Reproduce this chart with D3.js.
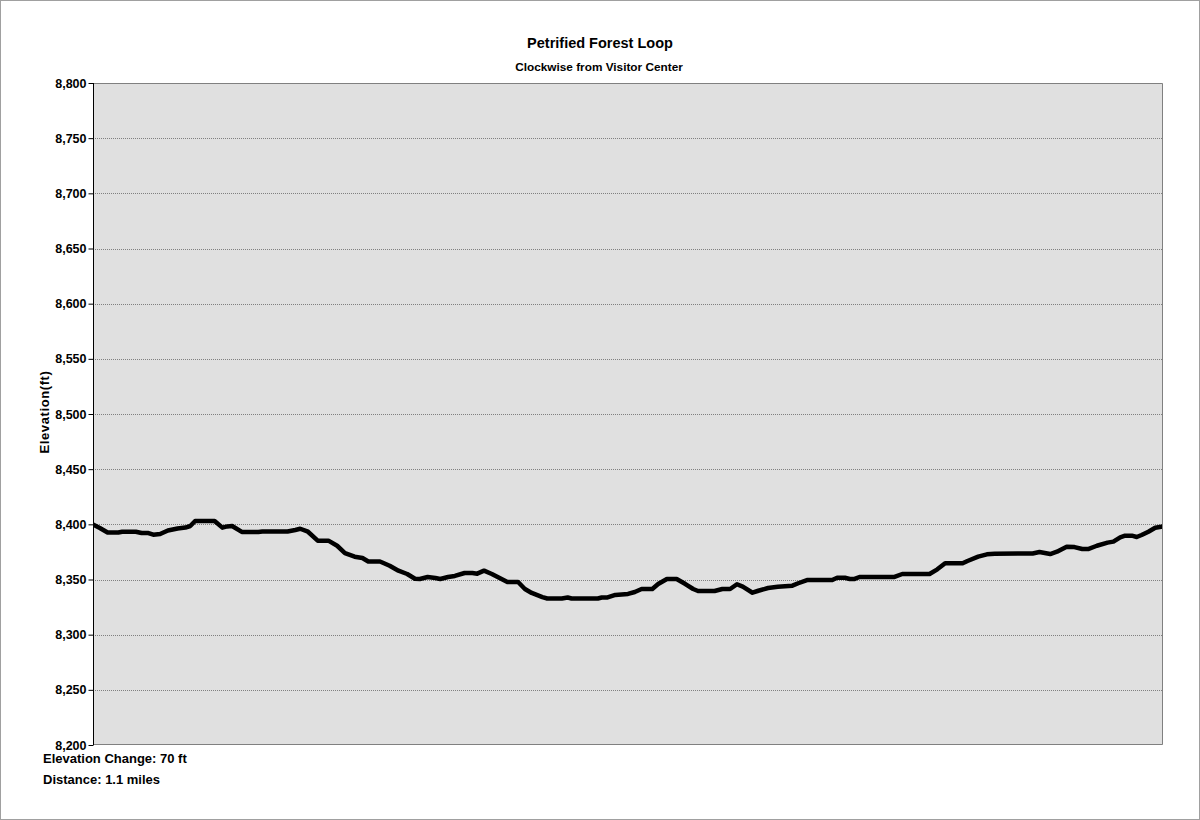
<!DOCTYPE html>
<html>
<head>
<meta charset="utf-8">
<script src="https://cdn.jsdelivr.net/npm/d3@7"></script>
<style>
  html, body { margin: 0; padding: 0; background: #fff; }
  svg { display: block; }
  text { font-family: "Liberation Sans", Arial, sans-serif; font-weight: bold; fill: #000; }
</style>
</head>
<body>
<svg id="chart" width="1200" height="820"></svg>
<script>
// Distance along the trail (miles)
const distance = [0, 0.007, 0.015, 0.026, 0.030, 0.044, 0.050, 0.057, 0.062, 0.069, 0.077, 0.087, 0.095, 0.100, 0.105, 0.125, 0.133, 0.138, 0.143, 0.153, 0.170, 0.174, 0.200, 0.208, 0.213, 0.221, 0.231, 0.242, 0.251, 0.259, 0.269, 0.277, 0.283, 0.295, 0.305, 0.314, 0.323, 0.331, 0.336, 0.344, 0.352, 0.357, 0.365, 0.372, 0.382, 0.390, 0.395, 0.402, 0.410, 0.418, 0.426, 0.437, 0.444, 0.451, 0.462, 0.467, 0.482, 0.488, 0.492, 0.519, 0.523, 0.529, 0.537, 0.550, 0.557, 0.564, 0.575, 0.581, 0.590, 0.600, 0.609, 0.617, 0.622, 0.639, 0.647, 0.655, 0.662, 0.668, 0.678, 0.684, 0.694, 0.704, 0.719, 0.725, 0.734, 0.760, 0.765, 0.773, 0.778, 0.783, 0.788, 0.824, 0.832, 0.860, 0.868, 0.876, 0.894, 0.899, 0.910, 0.919, 0.927, 0.966, 0.973, 0.984, 0.991, 1.001, 1.009, 1.017, 1.023, 1.032, 1.043, 1.049, 1.056, 1.061, 1.068, 1.073, 1.078, 1.085, 1.092, 1.100];
// Elevation (ft)
const elevation = [8399.8, 8396.7, 8392.6, 8392.6, 8393.3, 8393.3, 8392.1, 8392.1, 8390.6, 8391.2, 8394.4, 8396.2, 8397.1, 8398.5, 8403, 8403, 8397, 8398.1, 8398.5, 8393.1, 8393.1, 8393.5, 8393.5, 8394.9, 8396, 8393.3, 8385.2, 8385.2, 8380.6, 8374, 8370.7, 8369.5, 8366.3, 8366.3, 8362.5, 8358, 8355, 8350.7, 8350.5, 8352.3, 8351.4, 8350.5, 8352.3, 8353.2, 8355.9, 8355.9, 8355.3, 8358, 8355, 8351.4, 8347.7, 8347.7, 8341.4, 8337.8, 8334.1, 8332.8, 8332.8, 8333.7, 8332.8, 8332.8, 8333.7, 8333.7, 8336, 8336.9, 8338.7, 8341.4, 8341.4, 8345.9, 8350.5, 8350.5, 8345.9, 8341.4, 8339.6, 8339.6, 8341.4, 8341.4, 8345.7, 8343.5, 8338, 8339.8, 8342.3, 8343.5, 8344.4, 8346.6, 8349.5, 8349.5, 8351.6, 8351.6, 8350.5, 8350.5, 8352.3, 8352.3, 8355, 8355, 8359.2, 8364.7, 8364.7, 8366.8, 8370.7, 8372.8, 8373.4, 8373.6, 8374.9, 8373.1, 8375.2, 8379.7, 8379.4, 8377.6, 8377.6, 8380.6, 8383.4, 8384.3, 8388.2, 8389.7, 8389.7, 8388.5, 8390.3, 8393.3, 8396.9, 8398];
const yTicks = [8200, 8250, 8300, 8350, 8400, 8450, 8500, 8550, 8600, 8650, 8700, 8750, 8800];
const titleText = "Petrified Forest Loop";
const subtitleText = "Clockwise from Visitor Center";
const yAxisTitle = "Elevation(ft)";
const footerLines = ["Elevation Change: 70 ft", "Distance: 1.1 miles"];

const svg = d3.select("#chart");
const W = 1200, H = 820;
const plot = { left: 93, top: 83, right: 1163, bottom: 745 };

// outer border
svg.append("rect").attr("x", 0.5).attr("y", 0.5).attr("width", W - 1).attr("height", H - 1)
  .attr("fill", "#fff").attr("stroke", "#a0a0a0").attr("stroke-width", 1);

const x = d3.scaleLinear().domain([0, 1.1]).range([plot.left, plot.right]);
const y = d3.scaleLinear().domain([8200, 8800]).range([plot.bottom, plot.top]);

svg.append("clipPath").attr("id", "plotclip").append("rect")
  .attr("x", plot.left).attr("y", plot.top)
  .attr("width", plot.right - plot.left).attr("height", plot.bottom - plot.top);

// plot background
svg.append("rect").attr("x", plot.left).attr("y", plot.top)
  .attr("width", plot.right - plot.left).attr("height", plot.bottom - plot.top)
  .attr("fill", "#e0e0e0");

// gridlines
svg.append("g").selectAll("line").data(yTicks.filter(t => t > 8200 && t < 8800)).join("line")
  .attr("x1", plot.left).attr("x2", plot.right)
  .attr("y1", d => Math.round(y(d)) + 0.5).attr("y2", d => Math.round(y(d)) + 0.5)
  .attr("stroke", "#808080").attr("stroke-width", 1).attr("stroke-dasharray", "1,1");

// line
const line = d3.line().x((d, i) => x(distance[i])).y(d => y(d));
svg.append("path").datum(elevation)
  .attr("clip-path", "url(#plotclip)")
  .attr("d", line)
  .attr("fill", "none").attr("stroke", "#000").attr("stroke-width", 4.5)
  .attr("stroke-linejoin", "round").attr("stroke-linecap", "butt");

// plot border (top, right, bottom gray)
svg.append("path")
  .attr("d", `M${plot.left},${plot.top + 0.5}H${plot.right - 0.5}V${plot.bottom - 0.5}H${plot.left}`)
  .attr("fill", "none").attr("stroke", "#808080").attr("stroke-width", 1);

// y axis
const yAxis = d3.axisLeft(y).tickValues(yTicks).tickSize(5).tickPadding(2)
  .tickFormat(d3.format(",d"));
const gy = svg.append("g").attr("transform", `translate(${plot.left + 0.5},0)`).call(yAxis);
gy.select(".domain").attr("stroke", "#000").attr("d", `M0,${plot.top}V${plot.bottom}`);
gy.selectAll(".tick line").attr("stroke", "#000");
gy.selectAll(".tick text").style("font-family", "'Liberation Sans', Arial, sans-serif")
  .style("font-weight", "bold").style("font-size", "12.5px").attr("fill", "#000");

// titles
svg.append("text").attr("x", 600).attr("y", 48).attr("text-anchor", "middle")
  .style("font-size", "14.5px").text(titleText);
svg.append("text").attr("x", 599).attr("y", 71).attr("text-anchor", "middle")
  .style("font-size", "11.8px").text(subtitleText);

svg.append("text").attr("transform", `translate(49,412) rotate(-90)`)
  .attr("text-anchor", "middle").style("font-size", "13px").style("letter-spacing", "0.6px")
  .text(yAxisTitle);

svg.selectAll("text.footer").data(footerLines).join("text").attr("class", "footer")
  .attr("x", 43).attr("y", (d, i) => 763 + i * 21)
  .style("font-size", "13px").text(d => d);
</script>
</body>
</html>
